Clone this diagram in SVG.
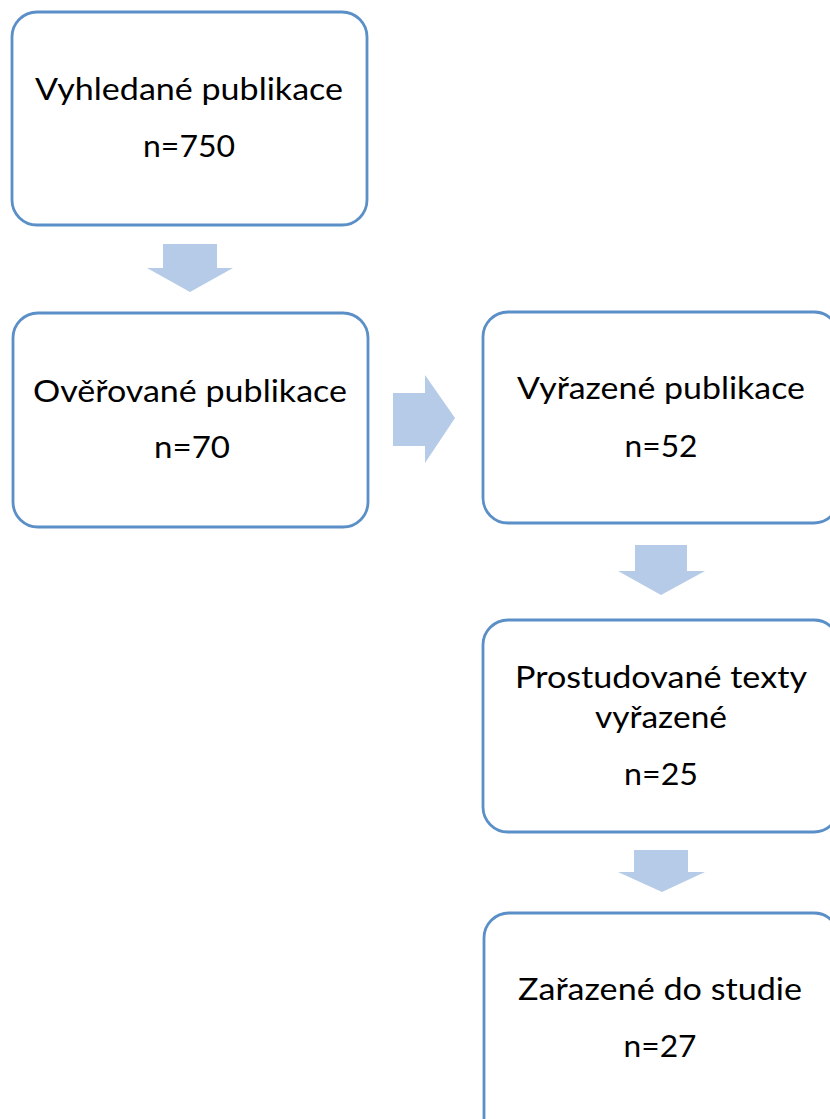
<svg xmlns="http://www.w3.org/2000/svg" width="830" height="1119" viewBox="0 0 830 1119">
<style>
.box{fill:#ffffff;stroke:#5b8fc7;stroke-width:2.8}
.arr{fill:#b6cbe8;stroke:none}
.t{font-family:Lato,"Open Sans","Liberation Sans",sans-serif;font-size:31px;fill:#000000;text-anchor:middle}
</style>
<rect width="830" height="1119" fill="#ffffff"/>
<g id="connectors">
<polygon class="arr" points="163,244 217,244 217,268 233,268 190,292 147,268 163,268"/>
<polygon class="arr" points="393,393 425,393 425,375 455,418 425,463 425,446 393,446"/>
<polygon class="arr" points="635,545 687,545 687,571 705,571 661,595 618,571 635,571"/>
<polygon class="arr" points="634,850 688,850 688,872 705,872 662,892 618,872 634,872"/>
</g>
<g id="node1">
<rect class="box" x="12" y="12" width="355" height="213" rx="25"/>
<text class="t" x="189" y="100" textLength="308" lengthAdjust="spacingAndGlyphs">Vyhledané publikace</text>
<text class="t" x="189" y="157" textLength="92" lengthAdjust="spacingAndGlyphs">n=750</text>
</g>
<g id="node2">
<rect class="box" x="13" y="313" width="355" height="214" rx="25"/>
<text class="t" x="190" y="402" textLength="314" lengthAdjust="spacingAndGlyphs">Ověřované publikace</text>
<text class="t" x="192" y="458" textLength="76" lengthAdjust="spacingAndGlyphs">n=70</text>
</g>
<g id="node3">
<rect class="box" x="483" y="312" width="356" height="211" rx="25"/>
<text class="t" x="661" y="399" textLength="288" lengthAdjust="spacingAndGlyphs">Vyřazené publikace</text>
<text class="t" x="661" y="457" textLength="73" lengthAdjust="spacingAndGlyphs">n=52</text>
</g>
<g id="node4">
<rect class="box" x="483" y="620" width="356" height="212" rx="25"/>
<text class="t" x="661" y="688" textLength="292" lengthAdjust="spacingAndGlyphs">Prostudované texty</text>
<text class="t" x="661" y="728" textLength="132" lengthAdjust="spacingAndGlyphs">vyřazené</text>
<text class="t" x="661" y="785" textLength="74" lengthAdjust="spacingAndGlyphs">n=25</text>
</g>
<g id="node5">
<rect class="box" x="484" y="913" width="355" height="230" rx="25"/>
<text class="t" x="660" y="1000" textLength="284" lengthAdjust="spacingAndGlyphs">Zařazené do studie</text>
<text class="t" x="660" y="1057" textLength="73" lengthAdjust="spacingAndGlyphs">n=27</text>
</g>
</svg>
